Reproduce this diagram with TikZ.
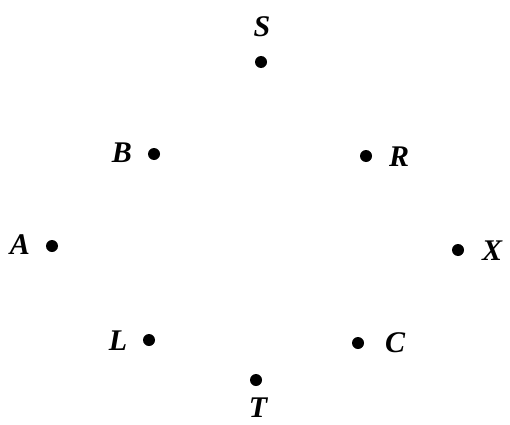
\documentclass[tikz,border=0pt]{standalone}
\usepackage{fontspec}
\newfontfamily\lblfont{Liberation Serif}
\begin{document}
\begin{tikzpicture}[x=1pt,y=1pt,
  pt/.style={circle,fill=black,inner sep=0pt,minimum size=12pt},
  lbl/.style={font=\lblfont\fontsize{30}{34}\selectfont\bfseries\itshape,inner sep=0pt}]
\useasboundingbox (0,0) rectangle (510,424);
\node[pt] (s) at (261,362) {};
\node[lbl] (sl) at (262,397) {S};
\node[pt] (b) at (154,270) {};
\node[lbl] (bl) at (122,271) {B};
\node[pt] (r) at (366,268) {};
\node[lbl] (rl) at (399,267) {R};
\node[pt] (a) at (52,178) {};
\node[lbl] (al) at (20,179) {A};
\node[pt] (x) at (458,174) {};
\node[lbl] (xl) at (492,173) {X};
\node[pt] (l) at (149,84) {};
\node[lbl] (ll) at (118,83) {L};
\node[pt] (c) at (358,81) {};
\node[lbl] (cl) at (395,81) {C};
\node[pt] (t) at (256,44) {};
\node[lbl] (tl) at (258,16) {T};
\end{tikzpicture}
\end{document}
